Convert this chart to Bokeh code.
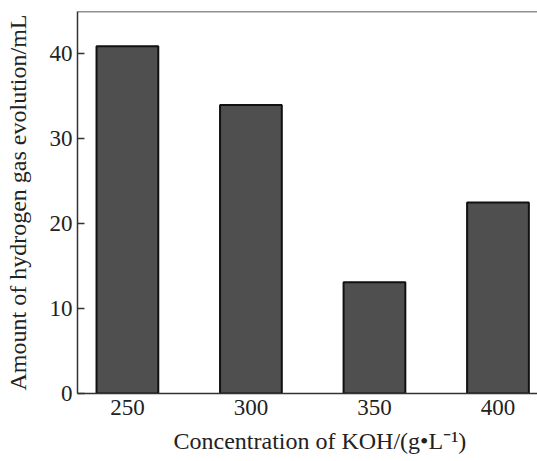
from bokeh.plotting import figure
from bokeh.models import Range1d, FixedTicker, Span, Title
from bokeh.embed import file_html
from bokeh.resources import INLINE

# Data
concentrations = [250, 300, 350, 400]
hydrogen_ml = [40.9, 34.0, 13.1, 22.5]
y_ticks = [0, 10, 20, 30, 40]
x_label = "Concentration of KOH/(g\u2022L\u207b\u00b9)"
y_label = "Amount of hydrogen gas evolution/mL"

FONT = "Liberation Serif"

p = figure(width=537, height=461, output_backend="svg", toolbar_location=None,
           x_range=Range1d(229.8, 416.0), y_range=Range1d(0, 45),
           min_border_left=77, min_border_right=0, min_border_top=11, min_border_bottom=68)
p.outline_line_color = None
p.grid.grid_line_color = None
p.background_fill_color = "white"
p.border_fill_color = "white"

p.vbar(x=concentrations, top=hydrogen_ml, width=25, bottom=0,
       fill_color="#4f4f4f", line_color="#111111", line_width=2)

# top frame line
p.add_layout(Span(location=45, dimension="width", line_color="#222222", line_width=1.5))

xa = p.xaxis[0]
xa.ticker = FixedTicker(ticks=concentrations)
xa.major_tick_in = 0
xa.major_tick_out = 0
xa.minor_tick_line_color = None
xa.axis_line_color = "#333333"
xa.axis_line_width = 1.5
xa.major_label_text_font = FONT
xa.major_label_text_font_size = "23px"
xa.major_label_text_color = "#222222"
xa.major_label_standoff = 6

# x-axis title, placed where the reference puts it (its frame runs past the right edge)
p.add_layout(Title(text=x_label, align="left", offset=96, standoff=16,
                   text_font=FONT, text_font_size="24px", text_font_style="normal",
                   text_color="#222222"), "below")

ya = p.yaxis[0]
ya.ticker = FixedTicker(ticks=y_ticks)
ya.major_tick_in = 7
ya.major_tick_out = 0
ya.major_tick_line_color = "#333333"
ya.major_tick_line_width = 1.5
ya.minor_tick_line_color = None
ya.axis_line_color = "#333333"
ya.axis_line_width = 1.5
ya.major_label_text_font = FONT
ya.major_label_text_font_size = "23px"
ya.major_label_text_color = "#222222"
ya.major_label_standoff = 5
ya.axis_label = y_label
ya.axis_label_text_font = FONT
ya.axis_label_text_font_size = "24px"
ya.axis_label_text_font_style = "normal"
ya.axis_label_text_color = "#222222"
ya.axis_label_standoff = 16

open("out.html", "w").write(file_html(p, INLINE))
